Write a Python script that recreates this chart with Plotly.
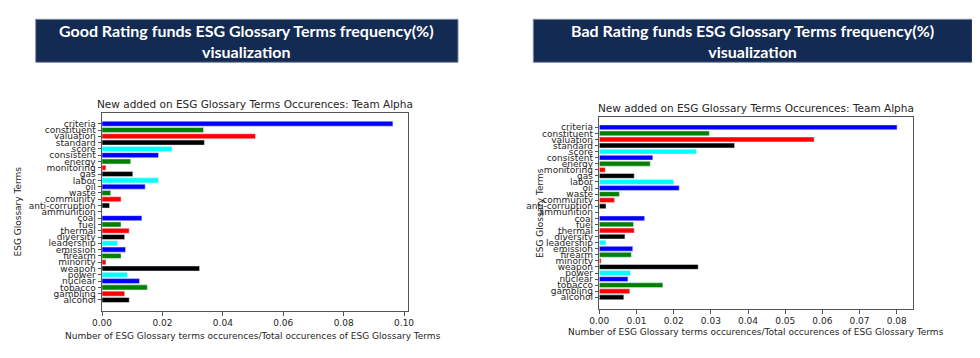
import plotly.graph_objects as go

terms = ["criteria", "constituent", "valuation", "standard", "score", "consistent", "energy",
         "monitoring", "gas", "labor", "oil", "waste", "community", "anti-corruption",
         "ammunition", "coal", "fuel", "thermal", "diversity", "leadership", "emission",
         "firearm", "minority", "weapon", "power", "nuclear", "tobacco", "gambling", "alcohol"]

good_freq = [0.0963, 0.0336, 0.0508, 0.0339, 0.0232, 0.0187, 0.0095, 0.0013, 0.0102, 0.0187,
             0.0143, 0.0029, 0.0063, 0.0025, 0.0, 0.0132, 0.0063, 0.0090, 0.0075, 0.0051,
             0.0078, 0.0063, 0.0013, 0.0323, 0.0084, 0.0124, 0.0150, 0.0075, 0.0090]

bad_freq = [0.0801, 0.0296, 0.0578, 0.0364, 0.0261, 0.0144, 0.0137, 0.0016, 0.0094, 0.0200,
            0.0215, 0.0054, 0.0041, 0.0018, 0.0, 0.0122, 0.0092, 0.0094, 0.0069, 0.0018,
            0.0090, 0.0086, 0.0005, 0.0266, 0.0084, 0.0077, 0.0171, 0.0082, 0.0066]

good_ticks = [0.0, 0.02, 0.04, 0.06, 0.08, 0.10]
bad_ticks = [0.0, 0.01, 0.02, 0.03, 0.04, 0.05, 0.06, 0.07, 0.08]

header_left = "Good Rating funds ESG Glossary Terms frequency(%)<br>visualization"
header_right = "Bad Rating funds ESG Glossary Terms frequency(%)<br>visualization"
chart_title = "New added on ESG Glossary Terms Occurences: Team Alpha"
x_title = "Number of ESG Glossary terms occurences/Total occurences of ESG Glossary Terms"
y_title = "ESG Glossary Terms"

cycle = ["#0000ff", "#008000", "#ff0000", "#000000", "#00ffff"]
colors = [cycle[i % 5] for i in range(len(terms))]

# page body has an 8px default margin; work in window pixels and convert
OFF = 8
W, H = 980 - OFF, 358 - OFF
def px(x): return (x - OFF) / W
def py(y): return 1 - (y - OFF) / H

fig = go.Figure()
fig.add_trace(go.Bar(y=terms, x=good_freq, orientation="h", marker=dict(color=colors),
                     width=0.8, xaxis="x", yaxis="y", showlegend=False))
fig.add_trace(go.Bar(y=terms, x=bad_freq, orientation="h", marker=dict(color=colors),
                     width=0.8, xaxis="x2", yaxis="y2", showlegend=False))

FONT = "DejaVu Sans"
TXT = "#262626"
n = len(terms)
axis_common = dict(showline=True, mirror=True, linecolor="#555555", linewidth=1,
                   ticks="outside", ticklen=3.5, tickcolor="#555555", showgrid=False,
                   zeroline=False, automargin=False,
                   tickfont=dict(family=FONT, size=9, color=TXT))

fig.update_layout(
    width=W, height=H, margin=dict(l=0, r=0, t=0, b=0, autoexpand=False),
    paper_bgcolor="white", plot_bgcolor="white",
    xaxis=dict(domain=[px(102), px(408)], range=[0, 0.1013], tickvals=good_ticks,
               tickformat=".2f", anchor="y", **axis_common),
    yaxis=dict(domain=[py(311), py(112.7)], range=[n - 1 + 1.75, -1.75], type="category",
               categoryarray=terms, tickmode="array", tickvals=terms, ticktext=terms,
               anchor="x", **axis_common),
    xaxis2=dict(domain=[px(599.3), px(912.7)], range=[0, 0.0843], tickvals=bad_ticks,
                tickformat=".2f", anchor="y2", **axis_common),
    yaxis2=dict(domain=[py(309), py(116.7)], range=[n - 1 + 1.93, -1.75], type="category",
                categoryarray=terms, tickmode="array", tickvals=terms, ticktext=terms,
                anchor="x2", **axis_common),
)

navy = "#132a52"
for x0, x1 in [(35.7, 458), (533.3, 972.3)]:
    fig.add_shape(type="rect", xref="paper", yref="paper", x0=px(x0), x1=px(x1),
                  y0=py(62.3), y1=py(19.3), fillcolor=navy, line=dict(color="#7f8aa0", width=1),
                  layer="below")

ann = []
for xc, txt in [((35.7 + 458) / 2, header_left), ((533.3 + 972.3) / 2, header_right)]:
    ann.append(dict(x=px(xc), y=py(40.8), xref="paper", yref="paper",
                    text="<b>" + txt.replace("<br>", "</b><br><b>") + "</b>",
                    showarrow=False, xanchor="center", yanchor="middle", align="center",
                    font=dict(family="Lato", size=16, color="white")))
for xc, yc in [(255, 104), (756, 108)]:
    ann.append(dict(x=px(xc), y=py(yc), xref="paper", yref="paper", text=chart_title,
                    showarrow=False, xanchor="center", yanchor="middle",
                    font=dict(family=FONT, size=10.5, color=TXT)))
for xc, yc in [(253, 336), (755.5, 331.7)]:
    ann.append(dict(x=px(xc), y=py(yc), xref="paper", yref="paper", text=x_title,
                    showarrow=False, xanchor="center", yanchor="middle",
                    font=dict(family=FONT, size=9, color=TXT)))
for xc, yc in [(17.5, 212), (540, 213)]:
    ann.append(dict(x=px(xc), y=py(yc), xref="paper", yref="paper", text=y_title,
                    showarrow=False, xanchor="center", yanchor="middle", textangle=-90,
                    font=dict(family=FONT, size=9, color=TXT)))
fig.update_layout(annotations=ann)

fig.write_html("out.html")
